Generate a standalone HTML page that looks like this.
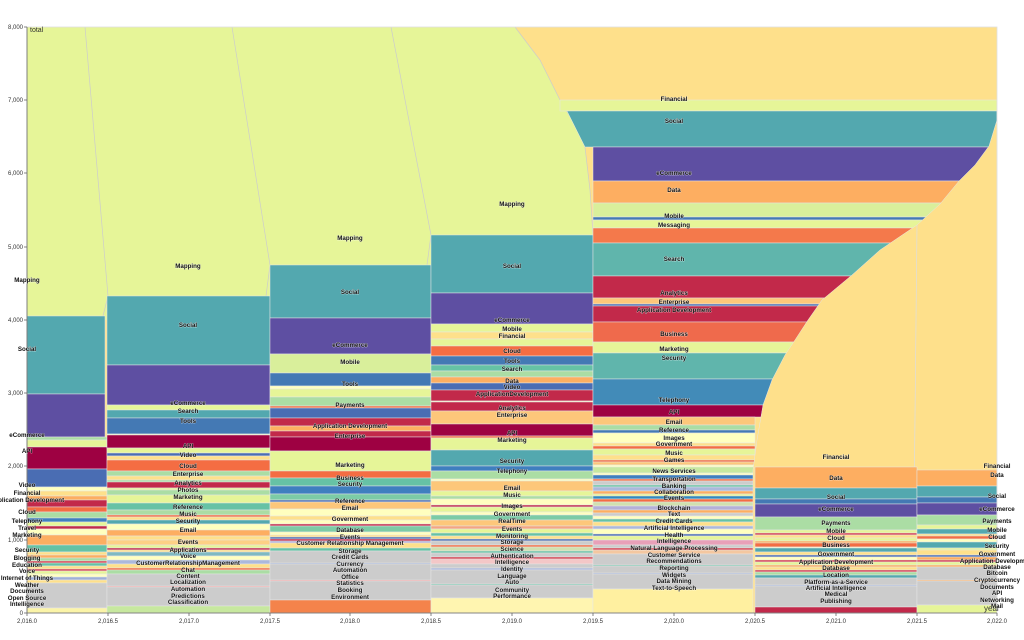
<!DOCTYPE html>
<html><head><meta charset="utf-8"><style>
html,body{margin:0;padding:0;background:#fff;}
svg{display:block;font-family:"Liberation Sans",sans-serif;}
.c rect,.c polygon{stroke:#e6e6e6;stroke-width:0.5;}
.l text{font-size:6.2px;font-weight:bold;fill:#111;text-anchor:middle;paint-order:stroke;stroke:#fff;stroke-width:0.8px;stroke-opacity:0.6;}
.ax text{font-size:6px;fill:#333;}
</style></head><body>
<svg width="1024" height="640" viewBox="0 0 1024 640">
<rect x="27" y="27" width="970" height="586" fill="#fee08b"/>
<polygon points="27,27 515,27 540,60 560,100 575,125 585,147 590,190 593,235 593,320 27,320" fill="#e6f598"/>
<g stroke="#ccc" stroke-width="0.7" fill="none">
<line x1="85" y1="27" x2="108" y2="296"/><line x1="232" y1="27" x2="270" y2="265"/><line x1="391" y1="27" x2="431" y2="235"/>
<line x1="103" y1="316" x2="108" y2="296"/><line x1="266" y1="296" x2="270" y2="265"/><line x1="427" y1="265" x2="431" y2="235"/>
<polyline points="515,27 540,60 560,100 575,125 585,147 590,190 593,235"/>
</g>
<g class="c">
<!-- C1 -->
<g transform="translate(27,0)">
<rect y="316" width="78" height="78" fill="#53a8af"/><rect y="394" width="78" height="43" fill="#5e4fa2"/>
<rect y="437" width="80" height="3" fill="#abdda4"/><rect y="440" width="80" height="7" fill="#e6f598"/>
<rect y="447" width="80" height="22" fill="#9e0142"/><rect y="469" width="80" height="18" fill="#4a6db3"/>
<rect y="487" width="80" height="4" fill="#ffffbf"/><rect y="491" width="80" height="5" fill="#fee08b"/>
<rect y="496" width="80" height="4" fill="#fdae61"/><rect y="500" width="80" height="7" fill="#c2294a"/>
<rect y="507" width="80" height="5" fill="#f46d43"/><rect y="512" width="80" height="6" fill="#abdda4"/>
<rect y="518" width="80" height="4" fill="#3f7fbf"/><rect y="522" width="80" height="4" fill="#e6f598"/>
<rect y="526" width="80" height="3" fill="#c2294a"/><rect y="529" width="80" height="6" fill="#ffffbf"/>
<rect y="535" width="80" height="10" fill="#fdae61"/><rect y="545" width="80" height="7" fill="#66c2a5"/>
<rect y="552" width="80" height="3" fill="#fee08b"/><rect y="555" width="80" height="3" fill="#fdae61"/>
<rect y="558" width="80" height="3" fill="#abdda4"/><rect y="561" width="80" height="2" fill="#d53e4f"/>
<rect y="563" width="80" height="3" fill="#66c2a5"/><rect y="566" width="80" height="3" fill="#fee08b"/>
<rect y="569" width="80" height="2" fill="#d53e4f"/><rect y="571" width="80" height="3" fill="#e6f598"/>
<rect y="574" width="80" height="3" fill="#ffffbf"/><rect y="577" width="80" height="3" fill="#9fb0d8"/>
<rect y="580" width="80" height="3" fill="#fee08b"/><rect y="583" width="80" height="25" fill="#cccccc"/>
<rect y="608" width="80" height="5" fill="#fbf4a8"/>
</g>
<!-- C2 -->
<g transform="translate(107,0)">
<rect y="296" width="163" height="69" fill="#53a8af"/><rect y="365" width="163" height="40" fill="#5e4fa2"/>
<rect y="405" width="163" height="5" fill="#e6f598"/><rect y="410" width="163" height="8" fill="#53a8af"/>
<rect y="418" width="163" height="16" fill="#4479b4"/><rect y="434" width="163" height="1" fill="#ffffbf"/>
<rect y="435" width="163" height="13" fill="#9e0142"/><rect y="448" width="163" height="5" fill="#e6f598"/>
<rect y="453" width="163" height="3" fill="#4a6db3"/><rect y="456" width="163" height="4" fill="#fee08b"/>
<rect y="460" width="163" height="11" fill="#f46d43"/><rect y="471" width="163" height="5" fill="#abdda4"/>
<rect y="476" width="163" height="4" fill="#fee08b"/><rect y="480" width="163" height="2" fill="#abdda4"/>
<rect y="482" width="163" height="6" fill="#c2294a"/><rect y="488" width="163" height="2" fill="#e6f598"/>
<rect y="490" width="163" height="5" fill="#abdda4"/><rect y="495" width="163" height="8" fill="#e6f598"/>
<rect y="503" width="163" height="7" fill="#66c2a5"/><rect y="510" width="163" height="5" fill="#abdda4"/>
<rect y="515" width="163" height="2" fill="#f46d43"/><rect y="517" width="163" height="3" fill="#fee08b"/>
<rect y="520" width="163" height="4" fill="#53a8af"/><rect y="524" width="163" height="6" fill="#ffffbf"/>
<rect y="530" width="163" height="6" fill="#fdae61"/><rect y="536" width="163" height="4" fill="#fee08b"/>
<rect y="540" width="163" height="5" fill="#fdd085"/><rect y="545" width="163" height="3" fill="#e6f598"/>
<rect y="548" width="163" height="2" fill="#c2294a"/><rect y="550" width="163" height="2" fill="#fee08b"/>
<rect y="552" width="163" height="4" fill="#7fb9c2"/><rect y="556" width="163" height="4" fill="#ffffbf"/>
<rect y="560" width="163" height="4" fill="#abb8dc"/><rect y="564" width="163" height="4" fill="#fee08b"/>
<rect y="568" width="163" height="2" fill="#f46d43"/><rect y="570" width="163" height="4" fill="#abdda4"/>
<rect y="574" width="163" height="32" fill="#cccccc"/><rect y="586" width="163" height="1" fill="#f4a0a0"/>
<rect y="606" width="163" height="7" fill="#c7e89f"/>
</g>
<!-- C3 -->
<g transform="translate(270,0)">
<rect y="265" width="161" height="53" fill="#53a8af"/><rect y="318" width="161" height="36" fill="#5e4fa2"/>
<rect y="354" width="161" height="19" fill="#d9ef9b"/><rect y="373" width="161" height="13" fill="#4479b4"/>
<rect y="386" width="161" height="3" fill="#ffffbf"/><rect y="389" width="161" height="8" fill="#e6f598"/>
<rect y="397" width="161" height="9" fill="#abdda4"/><rect y="406" width="161" height="2" fill="#f46d43"/>
<rect y="408" width="161" height="10" fill="#4a6db3"/><rect y="418" width="161" height="8" fill="#c2294a"/>
<rect y="426" width="161" height="5" fill="#fdae61"/><rect y="431" width="161" height="6" fill="#c2294a"/>
<rect y="437" width="161" height="14" fill="#9e0142"/><rect y="451" width="161" height="20" fill="#e6f598"/>
<rect y="471" width="161" height="7" fill="#f46d43"/><rect y="478" width="161" height="8" fill="#66c2a5"/>
<rect y="486" width="161" height="8" fill="#3f7fbf"/><rect y="494" width="161" height="6" fill="#7ccba6"/>
<rect y="500" width="161" height="2" fill="#4a6db3"/><rect y="502" width="161" height="7" fill="#fdc77a"/>
<rect y="509" width="161" height="7" fill="#ffffbf"/><rect y="516" width="161" height="4" fill="#fee08b"/>
<rect y="520" width="161" height="4" fill="#ffffbf"/><rect y="524" width="161" height="2" fill="#c2294a"/>
<rect y="526" width="161" height="6" fill="#7ccba6"/><rect y="532" width="161" height="3" fill="#ffffbf"/>
<rect y="535" width="161" height="2" fill="#fee08b"/><rect y="537" width="161" height="2" fill="#4a6db3"/>
<rect y="539" width="161" height="2" fill="#c2294a"/><rect y="541" width="161" height="2" fill="#b4b0d8"/>
<rect y="543" width="161" height="5" fill="#fee08b"/><rect y="548" width="161" height="3" fill="#66c2a5"/>
<rect y="551" width="161" height="49" fill="#cccccc"/><rect y="563" width="161" height="1" fill="#9fb0d8"/><rect y="580" width="161" height="1" fill="#f4a0a0"/>
<rect y="600" width="161" height="13" fill="#f4834b"/>
</g>
<!-- C4 -->
<g transform="translate(431,0)">
<rect y="235" width="162" height="58" fill="#53a8af"/><rect y="293" width="162" height="31" fill="#5e4fa2"/>
<rect y="324" width="162" height="8" fill="#e6f598"/><rect y="332" width="162" height="7" fill="#fee08b"/>
<rect y="339" width="162" height="7" fill="#e6f598"/><rect y="346" width="162" height="10" fill="#f46d43"/>
<rect y="356" width="162" height="9" fill="#4479b4"/><rect y="365" width="162" height="6" fill="#66c2a5"/>
<rect y="371" width="162" height="6" fill="#abdda4"/><rect y="377" width="162" height="6" fill="#fdae61"/>
<rect y="383" width="162" height="7" fill="#4a6db3"/><rect y="390" width="162" height="11" fill="#c2294a"/>
<rect y="401" width="162" height="1" fill="#ffffbf"/><rect y="402" width="162" height="9" fill="#c2294a"/>
<rect y="411" width="162" height="13" fill="#fdc77a"/><rect y="424" width="162" height="12" fill="#9e0142"/>
<rect y="436" width="162" height="2" fill="#f46d43"/><rect y="438" width="162" height="12" fill="#e6f598"/>
<rect y="450" width="162" height="16" fill="#53a8af"/><rect y="466" width="162" height="5" fill="#3f7fbf"/>
<rect y="471" width="162" height="8" fill="#abdda4"/><rect y="479" width="162" height="2" fill="#ffffbf"/>
<rect y="481" width="162" height="10" fill="#fdc77a"/><rect y="491" width="162" height="5" fill="#e6f598"/>
<rect y="496" width="162" height="3" fill="#abdda4"/><rect y="499" width="162" height="6" fill="#ffffbf"/>
<rect y="505" width="162" height="2" fill="#c2294a"/><rect y="507" width="162" height="5" fill="#e6f598"/>
<rect y="512" width="162" height="3" fill="#ffffbf"/><rect y="515" width="162" height="5" fill="#7ccba6"/>
<rect y="520" width="162" height="6" fill="#fdc77a"/><rect y="526" width="162" height="3" fill="#f4a582"/>
<rect y="529" width="162" height="4" fill="#e6f598"/><rect y="533" width="162" height="3" fill="#66c2a5"/>
<rect y="536" width="162" height="3" fill="#fee08b"/><rect y="539" width="162" height="2" fill="#4a6db3"/>
<rect y="541" width="162" height="4" fill="#cccccc"/><rect y="545" width="162" height="2" fill="#f46d43"/>
<rect y="547" width="162" height="4" fill="#d0e0b0"/><rect y="551" width="162" height="2" fill="#66c2a5"/>
<rect y="553" width="162" height="4" fill="#cccccc"/><rect y="557" width="162" height="2" fill="#d53e4f"/>
<rect y="559" width="162" height="5" fill="#f4c7c7"/><rect y="564" width="162" height="4" fill="#cccccc"/>
<rect y="568" width="162" height="2" fill="#abb8dc"/><rect y="570" width="162" height="28" fill="#cccccc"/>
<rect y="584" width="162" height="1" fill="#66c2a5"/>
<rect y="598" width="162" height="15" fill="#fff5b0"/>
</g>
<!-- C5 -->
<rect x="560" y="100" width="437" height="11" fill="#e6f598"/>
<polygon points="567,111 997,111 997,147 585,147" fill="#53a8af"/>
<g transform="translate(593,0)">
<rect y="147" width="404" height="34" fill="#5e4fa2"/><rect y="181" width="404" height="22" fill="#fdae61"/>
<rect y="203" width="404" height="14" fill="#d9ef9b"/><rect y="217" width="404" height="3" fill="#4479b4"/>
<rect y="220" width="404" height="8" fill="#e6f598"/><rect y="228" width="404" height="15" fill="#f4794b"/>
<rect y="243" width="404" height="33" fill="#60b5ac"/><rect y="276" width="404" height="22" fill="#c2294a"/>
<rect y="298" width="404" height="6" fill="#fdc77a"/><rect y="304" width="404" height="2" fill="#4a6db3"/>
<rect y="306" width="404" height="16" fill="#c2294a"/><rect y="322" width="404" height="20" fill="#ef6a4c"/>
<rect y="342" width="404" height="11" fill="#e6f598"/><rect y="353" width="404" height="26" fill="#60b5ac"/>
<rect y="379" width="404" height="26" fill="#428bb8"/><rect y="405" width="404" height="12" fill="#9e0142"/>
<rect y="417" width="162" height="8" fill="#fdc77a"/><rect y="425" width="162" height="5" fill="#abdda4"/>
<rect y="430" width="162" height="3" fill="#4479b4"/><rect y="433" width="162" height="10" fill="#ffffbf"/>
<rect y="443" width="162" height="3" fill="#fee08b"/><rect y="446" width="162" height="3" fill="#f46d43"/>
<rect y="449" width="162" height="6" fill="#e6f598"/><rect y="455" width="162" height="5" fill="#fee08b"/>
<rect y="460" width="162" height="2" fill="#f46d43"/><rect y="462" width="162" height="3" fill="#fdc77a"/>
<rect y="465" width="162" height="2" fill="#ffffbf"/><rect y="467" width="162" height="6" fill="#c7e89f"/>
<rect y="473" width="162" height="2" fill="#ffffbf"/><rect y="475" width="162" height="4" fill="#3f7fbf"/>
<rect y="479" width="162" height="2" fill="#f46d43"/><rect y="481" width="162" height="4" fill="#cccccc"/>
<rect y="485" width="162" height="2" fill="#66c2a5"/><rect y="487" width="162" height="4" fill="#abb8dc"/>
<rect y="491" width="162" height="3" fill="#fdae61"/><rect y="494" width="162" height="2" fill="#e6f598"/>
<rect y="496" width="162" height="3" fill="#3288bd"/><rect y="499" width="162" height="3" fill="#f46d43"/>
<rect y="502" width="162" height="4" fill="#d0e0b0"/><rect y="506" width="162" height="4" fill="#b4b0d8"/>
<rect y="510" width="162" height="3" fill="#fdae61"/><rect y="513" width="162" height="3" fill="#cccccc"/>
<rect y="516" width="162" height="3" fill="#ffffbf"/><rect y="519" width="162" height="3" fill="#66c2a5"/>
<rect y="522" width="162" height="4" fill="#fee08b"/><rect y="526" width="162" height="3" fill="#abb8dc"/>
<rect y="529" width="162" height="5" fill="#ffffbf"/><rect y="534" width="162" height="2" fill="#4a6db3"/>
<rect y="536" width="162" height="4" fill="#e6f598"/><rect y="540" width="162" height="5" fill="#e8a0b8"/>
<rect y="545" width="162" height="3" fill="#cccccc"/><rect y="548" width="162" height="2" fill="#d53e4f"/>
<rect y="550" width="162" height="4" fill="#f4c7a0"/><rect y="554" width="162" height="35" fill="#cccccc"/>
<rect y="565" width="162" height="1" fill="#66c2a5"/><rect y="573" width="162" height="1" fill="#9fb0d8"/>
<rect y="589" width="162" height="24" fill="#fff0a0"/>
</g>
<polygon points="753,613 753,470 757,440 763,405 772,380 785,355 795,340 808,320 822,300 852,275 880,250 917,225 940,204 959,181 975,165 989,146 997,120 997,613" fill="#fee08b" stroke="#ddd"/>
<line x1="917" y1="225" x2="913" y2="610" stroke="#ddd" stroke-width="0.7"/>
<!-- C6 -->
<g transform="translate(755,0)">
<rect y="467" width="162" height="21" fill="#fdae61"/><rect y="488" width="162" height="11" fill="#53a8af"/>
<rect y="499" width="162" height="5" fill="#4479b4"/><rect y="504" width="162" height="13" fill="#5e4fa2"/>
<rect y="517" width="162" height="13" fill="#abdda4"/><rect y="530" width="162" height="3" fill="#e6f598"/>
<rect y="533" width="162" height="2" fill="#d53e4f"/><rect y="535" width="162" height="3" fill="#fee08b"/>
<rect y="538" width="162" height="3" fill="#e6f598"/><rect y="541" width="162" height="2" fill="#fdae61"/>
<rect y="543" width="162" height="4" fill="#f46d43"/><rect y="547" width="162" height="1" fill="#ffffbf"/>
<rect y="548" width="162" height="4" fill="#53a8af"/><rect y="552" width="162" height="3" fill="#fee08b"/>
<rect y="555" width="162" height="2" fill="#4a6db3"/><rect y="557" width="162" height="3" fill="#ffffbf"/>
<rect y="560" width="162" height="2" fill="#d53e4f"/><rect y="562" width="162" height="3" fill="#e6f598"/>
<rect y="565" width="162" height="2" fill="#fdae61"/><rect y="567" width="162" height="3" fill="#fee08b"/>
<rect y="570" width="162" height="2" fill="#d53e4f"/><rect y="572" width="162" height="3" fill="#abdda4"/>
<rect y="575" width="162" height="3" fill="#53a8af"/><rect y="578" width="162" height="29" fill="#cccccc"/>
<rect y="585" width="162" height="1" fill="#9fb0d8"/>
<rect y="607" width="162" height="6" fill="#c2294a"/>
</g>
<!-- C7 -->
<g transform="translate(917,0)">
<rect y="470" width="80" height="16" fill="#fdae61"/><rect y="486" width="80" height="11" fill="#53a8af"/>
<rect y="497" width="80" height="6" fill="#4479b4"/><rect y="503" width="80" height="12" fill="#5e4fa2"/>
<rect y="515" width="80" height="10" fill="#abdda4"/><rect y="525" width="80" height="4" fill="#e6f598"/>
<rect y="529" width="80" height="5" fill="#53a8af"/><rect y="534" width="80" height="2" fill="#fee08b"/>
<rect y="536" width="80" height="3" fill="#f46d43"/><rect y="539" width="80" height="3" fill="#ffffbf"/>
<rect y="542" width="80" height="6" fill="#53a8af"/><rect y="548" width="80" height="2" fill="#e6f598"/>
<rect y="550" width="80" height="5" fill="#fee08b"/><rect y="555" width="80" height="2" fill="#4a6db3"/>
<rect y="557" width="80" height="3" fill="#fdae61"/><rect y="560" width="80" height="2" fill="#d53e4f"/>
<rect y="562" width="80" height="3" fill="#e6f598"/><rect y="565" width="80" height="2" fill="#fdae61"/>
<rect y="567" width="80" height="38" fill="#cccccc"/><rect y="580" width="80" height="1" fill="#fdae61"/>
<rect y="605" width="80" height="8" fill="#e6f598"/>
</g>
</g>
<rect x="27" y="27" width="970" height="586" fill="none" stroke="#e0e0e0" stroke-width="0.8"/>
<!-- axes -->
<g class="ax">
<line x1="27" y1="27" x2="27" y2="613" stroke="#666" stroke-width="0.8"/>
<line x1="27" y1="613" x2="997" y2="613" stroke="#666" stroke-width="0.8"/>
<g stroke="#666" stroke-width="0.8">
<line x1="24" y1="27" x2="27" y2="27"/><line x1="24" y1="100" x2="27" y2="100"/><line x1="24" y1="173" x2="27" y2="173"/><line x1="24" y1="247" x2="27" y2="247"/><line x1="24" y1="320" x2="27" y2="320"/><line x1="24" y1="393" x2="27" y2="393"/><line x1="24" y1="466" x2="27" y2="466"/><line x1="24" y1="540" x2="27" y2="540"/><line x1="24" y1="613" x2="27" y2="613"/>
<line x1="27" y1="613" x2="27" y2="616"/><line x1="108" y1="613" x2="108" y2="616"/><line x1="189" y1="613" x2="189" y2="616"/><line x1="270" y1="613" x2="270" y2="616"/><line x1="350" y1="613" x2="350" y2="616"/><line x1="431" y1="613" x2="431" y2="616"/><line x1="512" y1="613" x2="512" y2="616"/><line x1="593" y1="613" x2="593" y2="616"/><line x1="674" y1="613" x2="674" y2="616"/><line x1="755" y1="613" x2="755" y2="616"/><line x1="836" y1="613" x2="836" y2="616"/><line x1="917" y1="613" x2="917" y2="616"/><line x1="997" y1="613" x2="997" y2="616"/>
</g>
<g text-anchor="end">
<text x="23" y="29">8,000</text><text x="23" y="102">7,000</text><text x="23" y="175">6,000</text><text x="23" y="249">5,000</text><text x="23" y="322">4,000</text><text x="23" y="395">3,000</text><text x="23" y="468">2,000</text><text x="23" y="542">1,000</text><text x="23" y="615">0</text>
</g>
<g text-anchor="middle">
<text x="27" y="623">2,016.0</text><text x="108" y="623">2,016.5</text><text x="189" y="623">2,017.0</text><text x="270" y="623">2,017.5</text><text x="350" y="623">2,018.0</text><text x="431" y="623">2,018.5</text><text x="512" y="623">2,019.0</text><text x="593" y="623">2,019.5</text><text x="674" y="623">2,020.0</text><text x="755" y="623">2,020.5</text><text x="836" y="623">2,021.0</text><text x="917" y="623">2,021.5</text><text x="997" y="623">2,022.0</text>
</g>
<text x="30" y="32" fill="#888" style="font-size:7px">total</text>
<text x="984" y="611" fill="#888" style="font-size:8px">year</text>
</g>
<g class="l">
<g transform="translate(27,0)">
<text y="282">Mapping</text><text y="351">Social</text><text y="437">eCommerce</text><text y="453">API</text><text y="487">Video</text><text y="495">Financial</text><text y="502">Application Development</text><text y="514">Cloud</text><text y="523">Telephony</text><text y="530">Travel</text><text y="537">Marketing</text><text y="552">Security</text><text y="560">Blogging</text><text y="567">Education</text><text y="573">Voice</text><text y="580">Internet of Things</text><text y="587">Weather</text><text y="593">Documents</text><text y="600">Open Source</text><text y="606">Intelligence</text>
</g>
<g transform="translate(188,0)">
<text y="268">Mapping</text><text y="327">Social</text><text y="405">eCommerce</text><text y="413">Search</text><text y="423">Tools</text><text y="448">API</text><text y="457">Video</text><text y="468">Cloud</text><text y="476">Enterprise</text><text y="485">Analytics</text><text y="492">Photos</text><text y="499">Marketing</text><text y="509">Reference</text><text y="516">Music</text><text y="523">Security</text><text y="532">Email</text><text y="544">Events</text><text y="552">Applications</text><text y="558">Voice</text><text y="565">CustomerRelationshipManagement</text><text y="572">Chat</text><text y="578">Content</text><text y="584">Localization</text><text y="591">Automation</text><text y="598">Predictions</text><text y="604">Classification</text>
</g>
<g transform="translate(350,0)">
<text y="240">Mapping</text><text y="294">Social</text><text y="347">eCommerce</text><text y="364">Mobile</text><text y="386">Tools</text><text y="407">Payments</text><text y="428">Application Development</text><text y="438">Enterprise</text><text y="467">Marketing</text><text y="480">Business</text><text y="486">Security</text><text y="503">Reference</text><text y="510">Email</text><text y="521">Government</text><text y="532">Database</text><text y="539">Events</text><text y="545">Customer Relationship Management</text><text y="553">Storage</text><text y="559">Credit Cards</text><text y="566">Currency</text><text y="572">Automation</text><text y="579">Office</text><text y="585">Statistics</text><text y="592">Booking</text><text y="599">Environment</text>
</g>
<g transform="translate(512,0)">
<text y="206">Mapping</text><text y="268">Social</text><text y="322">eCommerce</text><text y="331">Mobile</text><text y="338">Financial</text><text y="353">Cloud</text><text y="363">Tools</text><text y="371">Search</text><text y="383">Data</text><text y="389">Video</text><text y="396">ApplicationDevelopment</text><text y="410">Analytics</text><text y="417">Enterprise</text><text y="435">API</text><text y="442">Marketing</text><text y="463">Security</text><text y="473">Telephony</text><text y="490">Email</text><text y="497">Music</text><text y="508">Images</text><text y="516">Government</text><text y="523">RealTime</text><text y="531">Events</text><text y="538">Monitoring</text><text y="544">Storage</text><text y="551">Science</text><text y="558">Authentication</text><text y="564">Intelligence</text><text y="571">Identity</text><text y="578">Language</text><text y="584">Auto</text><text y="592">Community</text><text y="598">Performance</text>
</g>
<g transform="translate(674,0)">
<text y="101">Financial</text><text y="123">Social</text><text y="175">eCommerce</text><text y="192">Data</text><text y="218">Mobile</text><text y="227">Messaging</text><text y="261">Search</text><text y="295">Analytics</text><text y="304">Enterprise</text><text y="312">Application Development</text><text y="336">Business</text><text y="351">Marketing</text><text y="360">Security</text><text y="402">Telephony</text><text y="414">API</text><text y="424">Email</text><text y="432">Reference</text><text y="440">Images</text><text y="446">Government</text><text y="455">Music</text><text y="462">Games</text><text y="473">News Services</text><text y="481">Transportation</text><text y="488">Banking</text><text y="494">Collaboration</text><text y="500">Events</text><text y="510">Blockchain</text><text y="516">Text</text><text y="523">Credit Cards</text><text y="530">Artificial Intelligence</text><text y="537">Health</text><text y="543">Intelligence</text><text y="550">Natural Language Processing</text><text y="557">Customer Service</text><text y="563">Recommendations</text><text y="570">Reporting</text><text y="577">Widgets</text><text y="583">Data Mining</text><text y="590">Text-to-Speech</text>
</g>
<g transform="translate(836,0)">
<text y="459">Financial</text><text y="480">Data</text><text y="499">Social</text><text y="511">eCommerce</text><text y="525">Payments</text><text y="533">Mobile</text><text y="540">Cloud</text><text y="547">Business</text><text y="556">Government</text><text y="564">Application Development</text><text y="570">Database</text><text y="577">Location</text><text y="584">Platform-as-a-Service</text><text y="590">Artificial Intelligence</text><text y="596">Medical</text><text y="603">Publishing</text>
</g>
<g transform="translate(997,0)">
<text y="468">Financial</text><text y="477">Data</text><text y="498">Social</text><text y="511">eCommerce</text><text y="523">Payments</text><text y="532">Mobile</text><text y="539">Cloud</text><text y="548">Security</text><text y="556">Government</text><text y="563">Application Development</text><text y="569">Database</text><text y="575">Bitcoin</text><text y="582">Cryptocurrency</text><text y="589">Documents</text><text y="595">API</text><text y="602">Networking</text><text y="608">Mail</text>
</g>
</g>
</svg>
</body></html>
